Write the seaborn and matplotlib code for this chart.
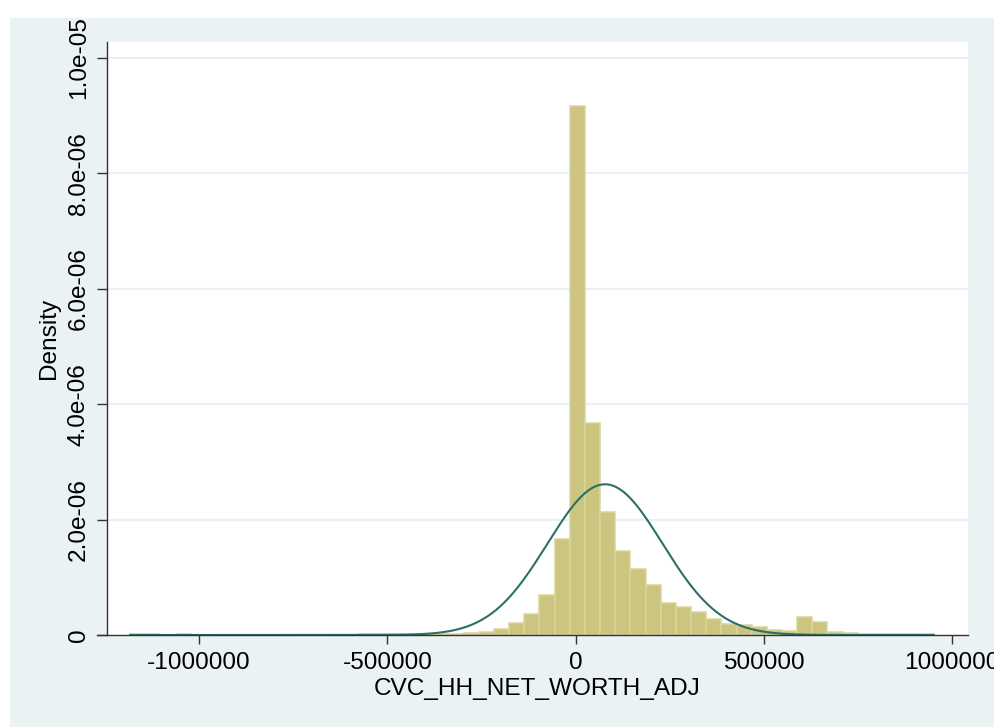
import numpy as np
import pandas as pd
import matplotlib
matplotlib.use("Agg")
import matplotlib.pyplot as plt
from matplotlib.patches import Rectangle
import seaborn as sns

# Histogram of household net worth: 53 equal-width bins, heights as densities
BIN_START = -1183000
BIN_END = 950250
N_BINS = 53
DENSITY_E6 = [
    0.02, 0.02, 0.0, 0.02, 0.0, 0.0, 0.0, 0.0, 0.0, 0.0,
    0.0, 0.0, 0.0, 0.0, 0.0, 0.015, 0.015, 0.015, 0.015, 0.015,
    0.015, 0.015, 0.03, 0.057, 0.099, 0.203, 0.359, 0.693, 1.664, 9.173,
    3.679, 2.127, 1.456, 1.139, 0.867, 0.555, 0.485, 0.399, 0.283, 0.191,
    0.173, 0.139, 0.087, 0.069, 0.312, 0.225, 0.052, 0.026, 0.017, 0.017,
    0.017, 0.017, 0.017,
]

# Normal density overlay (sample mean and standard deviation)
NORMAL_MEAN = 77800
NORMAL_SD = 152700

X_TICKS = [-1000000, -500000, 0, 500000, 1000000]
X_TICK_LABELS = ["-1000000", "-500000", "0", "500000", "1000000"]
Y_TICKS = [0, 2e-6, 4e-6, 6e-6, 8e-6, 1e-5]
Y_TICK_LABELS = ["0", "2.0e-06", "4.0e-06", "6.0e-06", "8.0e-06", "1.0e-05"]

X_LABEL = "CVC_HH_NET_WORTH_ADJ"
Y_LABEL = "Density"

W, H = 995, 727
BG = "#EAF2F3"
GRID = "#E9F1F3"
BAR_FILL = "#CCC580"
BAR_EDGE = "#DAD49E"
CURVE = "#2C7065"
AXIS = "#333333"

plt.rcParams["font.family"] = ["Liberation Sans", "DejaVu Sans"]
FS = 17.6

edges = np.linspace(BIN_START, BIN_END, N_BINS + 1)
centers = (edges[:-1] + edges[1:]) / 2
hist_df = pd.DataFrame({"value": centers, "density": np.array(DENSITY_E6) * 1e-6})

xs = np.linspace(BIN_START, BIN_END, 600)
pdf = np.exp(-0.5 * ((xs - NORMAL_MEAN) / NORMAL_SD) ** 2) / (NORMAL_SD * np.sqrt(2 * np.pi))
curve_df = pd.DataFrame({"value": xs, "pdf": pdf})

fig = plt.figure(figsize=(W / 100, H / 100), dpi=100)
fig.patch.set_facecolor(BG)

def px_rect(left, top, right, bottom):
    return [left / W, 1 - bottom / H, (right - left) / W, (bottom - top) / H]

ax = fig.add_axes(px_rect(107, 42, 968, 635))
ax.set_facecolor("white")

sns.histplot(
    data=hist_df, x="value", weights="density", bins=edges.tolist(), stat="count",
    color=BAR_FILL, edgecolor=BAR_EDGE, linewidth=1.1, alpha=1.0, ax=ax, zorder=2,
)
sns.lineplot(data=curve_df, x="value", y="pdf", color=CURVE, linewidth=1.5, ax=ax, zorder=3)

PX_PER_X = 188.3 / 500000
x0_px = 575.7
ax.set_xlim((107 - x0_px) / PX_PER_X, (968 - x0_px) / PX_PER_X)
ax.set_ylim(0, (635 - 42) / 57.7 * 1e-6)

ax.set_yticks(Y_TICKS)
ax.set_yticklabels(Y_TICK_LABELS)
ax.set_xticks(X_TICKS)
ax.set_xticklabels(X_TICK_LABELS)

for y in Y_TICKS[1:]:
    ax.axhline(y, color=GRID, linewidth=1.5, zorder=1)

for side in ("top", "right", "bottom"):
    ax.spines[side].set_visible(False)
ax.spines["left"].set_color(AXIS)
ax.spines["left"].set_linewidth(1.0)
ax.plot([-10 / 861, 1], [0, 0], transform=ax.transAxes, color=AXIS,
        linewidth=1.0, clip_on=False, zorder=4)

ax.tick_params(axis="x", length=6.5, width=1.0, color=AXIS, pad=6.0,
               labelsize=FS, labelcolor="black")
ax.tick_params(axis="y", length=7.0, width=1.0, color=AXIS, pad=5.5,
               labelsize=FS, labelcolor="black", labelrotation=90)
for lbl in ax.get_yticklabels():
    lbl.set_verticalalignment("center")
ax.grid(False)
ax.set_xlabel("")
ax.set_ylabel("")

fig.text(537.5 / W, 1 - 688.5 / H, X_LABEL, ha="center", va="center", fontsize=FS)
fig.text(49.5 / W, 1 - 338 / H, Y_LABEL, ha="center", va="center", fontsize=FS,
         rotation=90)

# white page margin along the top and left edges
fig.patches.append(Rectangle((0, 1 - 18 / H), 1, 18 / H, transform=fig.transFigure,
                             facecolor="white", edgecolor="none", zorder=10))
fig.patches.append(Rectangle((0, 0), 10 / W, 1, transform=fig.transFigure,
                             facecolor="white", edgecolor="none", zorder=10))

fig.savefig("out.png", dpi=100, facecolor=fig.get_facecolor())
